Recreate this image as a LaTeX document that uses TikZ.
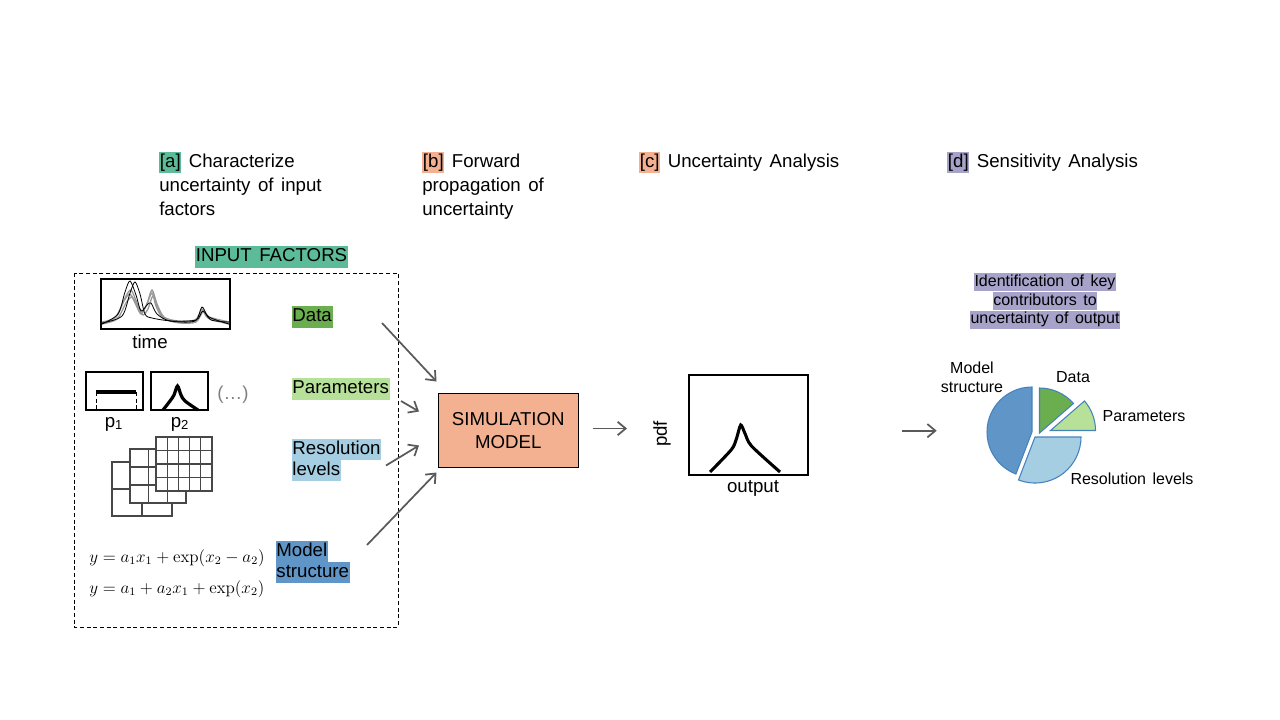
\documentclass[tikz,border=0pt]{standalone}
\usepackage[no-math]{fontspec}
\setmainfont{Liberation Sans}[WordSpace={1.45}]
\usetikzlibrary{arrows.meta}
\definecolor{cola}{RGB}{92,188,154}
\definecolor{colb}{RGB}{244,177,145}
\definecolor{cold}{RGB}{166,162,201}
\definecolor{coldata}{RGB}{106,174,80}
\definecolor{colpar}{RGB}{183,225,152}
\definecolor{colres}{RGB}{166,206,227}
\definecolor{colmod}{RGB}{96,150,199}
\definecolor{pieedge}{RGB}{70,130,190}
\definecolor{arrgray}{RGB}{89,89,89}
\setlength{\fboxsep}{0.5pt}
\newcommand{\hlbox}[2]{\colorbox{#1}{\rule[-0.28em]{0pt}{1.06em}#2}}
\begin{document}
\begin{tikzpicture}[x=0.75pt, y=-0.75pt,
	txt/.style={inner sep=0pt, align=left, font=\fontsize{14}{18}\selectfont},
	lbl/.style={inner sep=0pt, align=left, font=\fontsize{14}{16}\selectfont},
	small/.style={inner sep=0pt, align=center, font=\fontsize{12}{14}\selectfont},
	eq/.style={anchor=west, inner sep=0pt, font=\fontsize{12}{15}\selectfont},
	arr/.style={draw=arrgray, line width=1.3pt, -{Straight Barb[length=6pt,width=10pt]}},
	frame/.style={draw=black, line width=1.5pt},
	slice/.style={draw=pieedge, line width=0.8pt},
	gridl/.style={draw=black!72, line width=0.9pt, fill=white},
	series/.style={draw=black!40, line width=1pt, smooth}]
	\useasboundingbox (0,0) rectangle (1280,720);

	\node[txt, anchor=north west] (hda) at (159,152) {\hlbox{cola}{[a]} Characterize\\uncertainty of input\\factors};
	\node[txt, anchor=north west] (hdb) at (422,152) {\hlbox{colb}{[b]} Forward\\propagation of\\uncertainty};
	\node[txt, anchor=north west] (hdc) at (639,152) {\hlbox{colb}{[c]} Uncertainty Analysis};
	\node[txt, anchor=north west] (hdd) at (947,152) {\hlbox{cold}{[d]} Sensitivity Analysis};

	\node[lbl] (inf) at (271.5,257) {\hlbox{cola}{INPUT FACTORS}};
	\draw[dash pattern=on 3pt off 2pt, line width=0.7pt] (74,273) rectangle (398,627);

	\draw[frame] (101,279) rectangle (230,329);
	\draw[series] plot coordinates {(102,323) (115,318) (124,301) (130,294) (136,305) (141,314) (146,306) (152,293) (156,306) (163,318) (178,322) (195,321) (202,309) (208,318) (229,323)};
	\draw[series] plot coordinates {(102,322) (116,317) (125,298) (131,290) (137,303) (142,311) (147,304) (152,290) (157,304) (164,317) (178,321) (195,320) (202,311) (209,317) (229,322)};
	\draw[series] plot coordinates {(102,324) (117,319) (126,303) (132,297) (138,307) (143,315) (148,309) (153,296) (158,309) (165,319) (180,323) (196,322) (203,312) (210,319) (229,324)};
	\draw[draw=black, line width=0.6pt, smooth] plot coordinates {(102,324) (118,314) (125,292) (130,281) (136,295) (141,311) (147,305) (151,303) (157,314) (170,321) (195,321) (202,307) (209,317) (229,324)};
	\draw[draw=black, line width=0.6pt, smooth] plot coordinates {(102,323) (122,316) (130,293) (135,282) (140,294) (145,314) (152,318) (172,321) (196,320) (203,311) (211,320) (229,322)};
	\node[lbl] (time) at (150,342) {time};

	\draw[frame] (86,372) rectangle (143,410);
	\draw[densely dashed, line width=0.5pt] (96,392) -- (96,410) (136,392) -- (136,410);
	\draw[line width=2.6pt] (96,392) -- (136,392);
	\draw[frame] (151,372) rectangle (208,410);
	\draw[line width=2.4pt, smooth, tension=0.5] plot coordinates {(163,410) (170,401) (174,395) (177.5,386) (181,395) (185,401) (198,410)};
	\node[lbl, text=black!50] (etc) at (233,395) {(\dots)};
	\node[lbl] (pa) at (114,424) {p\textsubscript{1}};
	\node[lbl] (pb) at (180,424) {p\textsubscript{2}};

	\draw[gridl] (112,462) rectangle (172,516);
	\foreach \x in {142} \draw[gridl] (\x,462) -- (\x,516);
	\foreach \y in {489} \draw[gridl] (112,\y) -- (172,\y);
	\draw[gridl] (130,449) rectangle (186,503);
	\foreach \x in {148.7,167.3} \draw[gridl] (\x,449) -- (\x,503);
	\foreach \y in {467,485} \draw[gridl] (130,\y) -- (186,\y);
	\draw[gridl] (156,437) rectangle (212,491);
	\foreach \x in {167.2,178.4,189.6,200.8} \draw[gridl] (\x,437) -- (\x,491);
	\foreach \y in {450.5,464,477.5} \draw[gridl] (156,\y) -- (212,\y);

	\node[eq] (eqa) at (89,558) {\scalebox{1.07}{$y = a_1x_1 + \exp(x_2 - a_2)$}};
	\node[eq] (eqb) at (89,589) {\scalebox{1.07}{$y = a_1 + a_2x_1 + \exp(x_2)$}};

	\node[lbl, anchor=west] (data) at (291.5,317) {\hlbox{coldata}{Data}};
	\node[lbl, anchor=west] (par) at (291.5,389) {\hlbox{colpar}{Parameters}};
	\node[lbl, anchor=west] (res) at (291.5,460) {\hlbox{colres}{Resolution}\\\hlbox{colres}{levels}};
	\node[lbl, anchor=west] (mod) at (275.5,562) {\hlbox{colmod}{Model}\\\hlbox{colmod}{structure}};

	\node[draw=black, line width=0.75pt, fill=colb, minimum width=105pt, minimum height=55.5pt, align=center, font=\fontsize{14}{17.5}\selectfont] (sim) at (508.3,430.3) {SIMULATION\\MODEL};

	\coordinate (datafrom) at (382,323);
	\coordinate (datato) at (436.5,381.5);
	\coordinate (parfrom) at (401,401);
	\coordinate (parto) at (419,411.5);
	\coordinate (resfrom) at (386,465.5);
	\coordinate (resto) at (419,445.5);
	\coordinate (modfrom) at (367,545);
	\coordinate (modto) at (436.5,472.5);
	\draw[arr] (datafrom) -- (datato);
	\draw[arr] (parfrom) -- (parto);
	\draw[arr] (resfrom) -- (resto);
	\draw[arr] (modfrom) -- (modto);

	\coordinate (pdfto) at (627,428.5);
	\draw[arr] (sim.east |- pdfto) ++(14,0) coordinate (simout) -- (pdfto);

	\draw[frame] (689,375) rectangle (808,475);
	\draw[line width=2.3pt, smooth, tension=0.45] plot coordinates {(710,472) (731.5,449.5) (736.5,438.5) (740.7,425) (745,433.5) (751.5,446) (780,472)};
	\node[lbl, rotate=90] (pdf) at (662,434) {pdf};
	\node[lbl] (out) at (753,488) {output};

	\coordinate (piefrom) at (902,430.7);
	\coordinate (pieto) at (936.7,430.7);
	\draw[arr] (piefrom) -- (pieto);

	\node[small] (ident) at (1045,301) {\hlbox{cold}{Identification of key}\\\hlbox{cold}{contributors to}\\\hlbox{cold}{uncertainty of output}};

	\filldraw[slice, fill=colmod] (1032,432) -- ++(-90:45) arc[start angle=-90, end angle=-249, radius=45] -- cycle;
	\filldraw[slice, fill=coldata] (1039.5,433) -- ++(-41:45) arc[start angle=-41, end angle=-90, radius=45] -- cycle;
	\filldraw[slice, fill=colpar] (1050.5,430.5) -- ++(0:45) arc[start angle=0, end angle=-41, radius=45] -- cycle;
	\filldraw[slice, fill=colres] (1035,437) -- ++(-249:46) arc[start angle=-249, end angle=-360, radius=46] -- cycle;

	\node[small] (pmod) at (972,377) {Model\\structure};
	\node[small] (pdata) at (1073,377) {Data};
	\node[small] (ppar) at (1144,416) {Parameters};
	\node[small] (pres) at (1132,479) {Resolution levels};
\end{tikzpicture}
\end{document}
